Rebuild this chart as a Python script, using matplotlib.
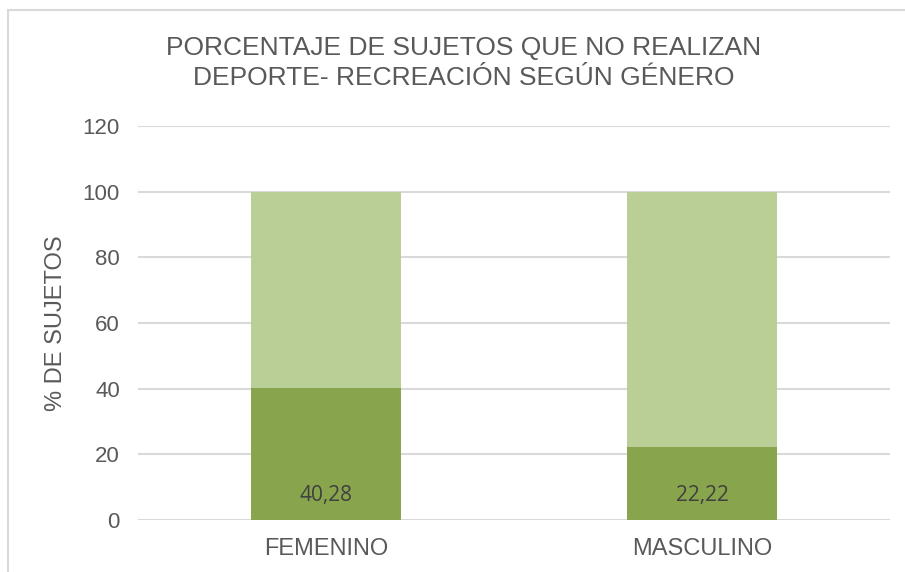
import matplotlib.pyplot as plt
from matplotlib.patches import Rectangle
from matplotlib import font_manager

# Data
categories = ["FEMENINO", "MASCULINO"]
no_realizan = [40.28, 22.22]
resto = [59.72, 77.78]
labels = ["40,28", "22,22"]

names = {f.name for f in font_manager.fontManager.ttflist}
title_font = "Liberation Sans Narrow" if "Liberation Sans Narrow" in names else "Liberation Sans"
plt.rcParams["font.family"] = ["Liberation Sans", "DejaVu Sans"]

gray = "#595959"
dark = "#88A44C"
light = "#B9CF96"

fig = plt.figure(figsize=(9.05, 5.72), dpi=100)
ax = fig.add_axes([0.1525, 0.0909, 0.8309, 0.6888])

x = range(len(categories))
ax.bar(x, no_realizan, width=0.4, color=dark, zorder=3)
ax.bar(x, resto, width=0.4, bottom=no_realizan, color=light, zorder=3)

for i, lab in enumerate(labels):
    ax.annotate(lab, (i, 0), xytext=(0, 18), textcoords="offset points",
                ha="center", va="center", fontsize=15, color="#404040",
                family=["Open Sans", "DejaVu Sans"])

ax.set_xlim(-0.5, 1.5)
ax.set_ylim(0, 120)
ax.set_yticks(range(0, 121, 20))
ax.set_xticks(list(x))
ax.set_xticklabels(categories)
ax.grid(axis="y", color="#D9D9D9", linewidth=1.5, zorder=0)
ax.tick_params(axis="y", length=0, labelsize=16, colors=gray, pad=13)
ax.tick_params(axis="x", length=0, labelsize=17, colors=gray, pad=13)
for s in ax.spines.values():
    s.set_visible(False)

ax.set_ylabel("% DE SUJETOS", fontsize=17, color=gray, labelpad=11)

fig.text(0.512, 0.89, "PORCENTAJE DE SUJETOS QUE NO REALIZAN\nDEPORTE- RECREACIÓN SEGÚN GÉNERO",
         ha="center", va="center", fontsize=19, color=gray, family=title_font,
         linespacing=1.35)

# chart border (cropped at right and bottom)
fig.patches.append(Rectangle((0.0088, -0.1), 1.2, 1.0825, transform=fig.transFigure,
                             fill=False, edgecolor="#D9D9D9", linewidth=1.5))

plt.savefig("out.png", dpi=100)
